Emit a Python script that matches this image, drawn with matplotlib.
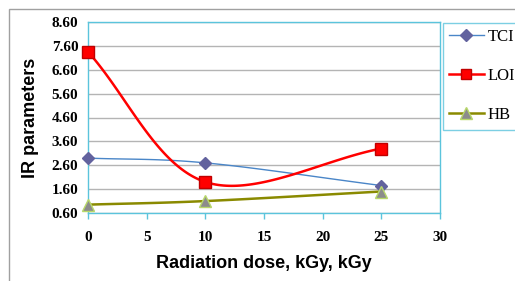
import numpy as np
import matplotlib
matplotlib.use("Agg")
import matplotlib.pyplot as plt
from matplotlib.patches import Rectangle

dose = [0, 10, 25]
tci = [2.90, 2.70, 1.75]
loi = [7.35, 1.90, 3.30]
hb = [0.95, 1.10, 1.50]
series_names = ["TCI", "LOI", "HB"]
yticks = [0.6, 1.6, 2.6, 3.6, 4.6, 5.6, 6.6, 7.6, 8.6]
xticks = [0, 5, 10, 15, 20, 25, 30]

fig = plt.figure(figsize=(5.15, 2.81), dpi=100)
fig.patches.append(Rectangle((9/515, -0.1), 1.2, 1 - 9/281 + 0.1, transform=fig.transFigure,
                             fill=False, edgecolor="#a0a0a0", linewidth=1.0))
ax = fig.add_axes([88/515, 1 - 213/281, (440 - 88)/515, (213 - 22)/281])
ax.set_xlim(0, 30)
ax.set_ylim(0.6, 8.6)

def smooth(xs, ys, n=60):
    # Excel-style smoothing (Bezier through points) in display space
    pts = ax.transData.transform(np.column_stack([xs, ys]))
    m = len(pts)
    tang = np.zeros_like(pts)
    for i in range(m):
        if i == 0:
            tang[i] = (pts[1] - pts[0]) / 3.0
        elif i == m - 1:
            tang[i] = (pts[-1] - pts[-2]) / 3.0
        else:
            tang[i] = (pts[i + 1] - pts[i - 1]) / 6.0
    out = []
    t = np.linspace(0, 1, n)[:, None]
    for i in range(m - 1):
        p1, p2 = pts[i], pts[i + 1]
        c1 = p1 + tang[i]
        c2 = p2 - tang[i + 1]
        seg = ((1 - t) ** 3) * p1 + 3 * ((1 - t) ** 2) * t * c1 + 3 * (1 - t) * t ** 2 * c2 + t ** 3 * p2
        out.append(seg if i == 0 else seg[1:])
    out = np.vstack(out)
    d = ax.transData.inverted().transform(out)
    return d[:, 0], d[:, 1]

styles = [
    dict(color="#4a86c8", lw=1.0, marker="D", mfc="#62629e", mec="#62629e", ms=6.5),
    dict(color="#ff0000", lw=1.8, marker="s", mfc="#ff0000", mec="#c00000", ms=8),
    dict(color="#8a8a00", lw=1.8, marker="^", mfc="#8c8c8c", mec="#b8d86a", ms=9),
]
handles = []
for ys, st, name in zip([tci, loi, hb], styles, series_names):
    sx, sy = smooth(dose, ys)
    ax.plot(sx, sy, color=st["color"], lw=st["lw"], zorder=3, solid_capstyle="round")
    ax.plot(dose, ys, ls="none", marker=st["marker"], mfc=st["mfc"], mec=st["mec"],
            ms=st["ms"], mew=1.0, zorder=4, clip_on=False)
    h, = ax.plot([], [], color=st["color"], lw=st["lw"], marker=st["marker"], mfc=st["mfc"],
                 mec=st["mec"], ms=st["ms"] * 0.9, mew=1.0, label=name)
    handles.append(h)

ax.set_yticks(yticks)
ax.set_yticklabels([f"{v:.2f}" for v in yticks], fontfamily="Liberation Serif",
                   fontweight="bold", fontsize=11)
ax.set_xticks(xticks)
ax.set_xticklabels([str(v) for v in xticks], fontfamily="Liberation Serif",
                   fontweight="bold", fontsize=11)
ax.tick_params(axis="y", length=0, pad=7)
ax.tick_params(axis="x", length=4, width=1, color="#5bc4dc", pad=9, direction="out")
ax.grid(axis="y", color="#b4b4b4", lw=1.0)
ax.set_axisbelow(True)
for s in ax.spines.values():
    s.set_color("#5bc4dc")
    s.set_linewidth(1.0)

ax.set_ylabel("IR parameters", fontfamily="Liberation Sans", fontweight="bold",
              fontsize=13, labelpad=9)
ax.set_xlabel("Radiation dose, kGy, kGy", fontfamily="Liberation Sans", fontweight="bold",
              fontsize=13, labelpad=8)

leg = fig.legend(handles=handles, loc="upper left", bbox_to_anchor=(443/515, 1 - 23/281),
                 prop={"family": "Liberation Serif", "size": 12}, frameon=True,
                 fancybox=False, labelspacing=1.38, handlelength=2.05, handletextpad=0.25,
                 borderpad=0.38, borderaxespad=0)
leg.get_frame().set_edgecolor("#5bc4dc")
leg.get_frame().set_linewidth(1.0)

fig.savefig("out.png", dpi=100)
